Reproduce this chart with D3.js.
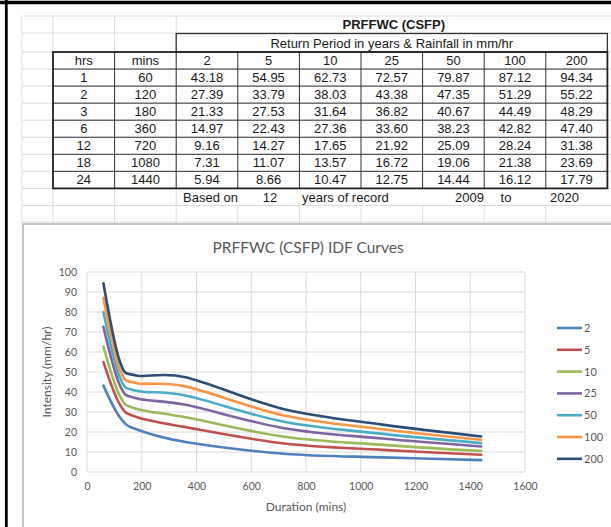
<!DOCTYPE html>
<html>
<head>
<meta charset="utf-8">
<script src="https://cdn.jsdelivr.net/npm/d3@7"></script>
<style>
  body { margin: 0; background: #fff; }
  svg { display: block; }
</style>
</head>
<body>
<svg id="page" width="611" height="527"></svg>
<script>
// table + IDF chart data
var hrs = [1, 2, 3, 6, 12, 18, 24];
var mins = [60, 120, 180, 360, 720, 1080, 1440];
var returnPeriods = ["2", "5", "10", "25", "50", "100", "200"];
var r2 = [43.18, 27.39, 21.33, 14.97, 9.16, 7.31, 5.94];
var r5 = [54.95, 33.79, 27.53, 22.43, 14.27, 11.07, 8.66];
var r10 = [62.73, 38.03, 31.64, 27.36, 17.65, 13.57, 10.47];
var r25 = [72.57, 43.38, 36.82, 33.60, 21.92, 16.72, 12.75];
var r50 = [79.87, 47.35, 40.67, 38.23, 25.09, 19.06, 14.44];
var r100 = [87.12, 51.29, 44.49, 42.82, 28.24, 21.38, 16.12];
var r200 = [94.34, 55.22, 48.29, 47.40, 31.38, 23.69, 17.79];
var seriesValues = [r2, r5, r10, r25, r50, r100, r200];
var seriesColors = ["#4F81BD", "#C0504D", "#9BBB59", "#8064A2", "#4BACC6", "#F79646", "#2C4D75"];
var xTicks = [0, 200, 400, 600, 800, 1000, 1200, 1400, 1600];
var yTicks = [0, 10, 20, 30, 40, 50, 60, 70, 80, 90, 100];

var svg = d3.select("#page");
var tableFont = "'Liberation Sans', Arial, sans-serif";
var chartFont = "Lato, 'Open Sans', sans-serif";

// ---------- spreadsheet part ----------
var colX = d3.range(10).map(function(i) { return 53 + i * 61.6; });
var rowY = d3.range(9).map(function(i) { return 52 + i * 17.05; });

// light excel gridlines
var g = svg.append("g");
var lightY = [16, 33].concat(rowY).concat([205.5, 222]);
g.selectAll(".hg").data(lightY).enter().append("line")
  .attr("x1", 22).attr("x2", 611)
  .attr("y1", function(d) { return d; }).attr("y2", function(d) { return d; })
  .style("stroke", "#dcdcdc").style("stroke-width", 1);
g.selectAll(".vg").data([22, colX[0], colX[1], colX[2]]).enter().append("line")
  .attr("x1", function(d) { return d; }).attr("x2", function(d) { return d; })
  .attr("y1", 16).attr("y2", 224)
  .style("stroke", "#dcdcdc").style("stroke-width", 1);
g.selectAll(".vg2").data(colX.slice(3, 9)).enter().append("line")
  .attr("x1", function(d) { return d; }).attr("x2", function(d) { return d; })
  .attr("y1", 206).attr("y2", 224)
  .style("stroke", "#dcdcdc").style("stroke-width", 1);

// title + return period box
g.append("text").attr("x", (colX[2] + colX[9]) / 2 + 2).attr("y", 29)
  .attr("text-anchor", "middle").style("font-family", tableFont)
  .style("font-size", "13px").style("font-weight", "bold").style("fill", "#1a1a1a")
  .text("PRFFWC (CSFP)");
g.append("rect").attr("x", colX[2]).attr("y", 33.5).attr("width", colX[9] - colX[2]).attr("height", rowY[0] - 33.5)
  .style("fill", "none").style("stroke", "#333").style("stroke-width", 1.3);
g.append("text").attr("x", (colX[2] + colX[9]) / 2).attr("y", 47.5)
  .attr("text-anchor", "middle").style("font-family", tableFont)
  .style("font-size", "13px").style("fill", "#1a1a1a")
  .text("Return Period in years & Rainfall in mm/hr");

// table cells
var header = ["hrs", "mins"].concat(returnPeriods);
var rows = [header];
hrs.forEach(function(h, i) {
  rows.push([h, mins[i]].concat(seriesValues.map(function(s) { return s[i].toFixed(2); })));
});
rows.forEach(function(row, r) {
  row.forEach(function(v, c) {
    g.append("text")
      .attr("x", (colX[c] + colX[c + 1]) / 2)
      .attr("y", rowY[r] + 13)
      .attr("text-anchor", "middle")
      .style("font-family", tableFont).style("font-size", "13px").style("fill", "#1a1a1a")
      .text(v);
  });
});
// inner borders
g.selectAll(".ih").data(rowY.slice(1, 8)).enter().append("line")
  .attr("x1", colX[0]).attr("x2", colX[9])
  .attr("y1", function(d) { return d; }).attr("y2", function(d) { return d; })
  .style("stroke", "#333").style("stroke-width", 1);
g.selectAll(".iv").data(colX.slice(1, 9)).enter().append("line")
  .attr("x1", function(d) { return d; }).attr("x2", function(d) { return d; })
  .attr("y1", rowY[0]).attr("y2", rowY[8])
  .style("stroke", "#333").style("stroke-width", 1);
g.append("rect").attr("x", colX[0]).attr("y", rowY[0]).attr("width", colX[9] - colX[0]).attr("height", rowY[8] - rowY[0])
  .style("fill", "none").style("stroke", "#222").style("stroke-width", 1.8);

// note row
var note = [
  {t: "Based on", x: 183, a: "start"},
  {t: "12", x: 270, a: "middle"},
  {t: "years of record", x: 302, a: "start"},
  {t: "2009", x: 484, a: "end"},
  {t: "to", x: 506, a: "middle"},
  {t: "2020", x: 550, a: "start"}
];
g.selectAll(".note").data(note).enter().append("text")
  .attr("x", function(d) { return d.x; }).attr("y", 202)
  .attr("text-anchor", function(d) { return d.a; })
  .style("font-family", tableFont).style("font-size", "13px").style("fill", "#1a1a1a")
  .text(function(d) { return d.t; });

// ---------- chart part ----------
var c = svg.append("g");
c.append("rect").attr("x", 23).attr("y", 224).attr("width", 640).attr("height", 400)
  .style("fill", "#fff").style("stroke", "#8c8c8c").style("stroke-width", 1);

c.append("text").attr("x", 308).attr("y", 253).attr("text-anchor", "middle")
  .style("font-family", chartFont).style("font-size", "15.5px").style("fill", "#595959")
  .text("PRFFWC (CSFP) IDF Curves");

var x = d3.scaleLinear().domain([0, 1600]).range([87, 525]);
var y = d3.scaleLinear().domain([0, 100]).range([472, 272]);

c.selectAll(".gy").data(yTicks).enter().append("line")
  .attr("x1", x(0)).attr("x2", x(1600))
  .attr("y1", function(d) { return y(d); }).attr("y2", function(d) { return y(d); })
  .style("stroke", "#d9d9d9").style("stroke-width", 1);
c.selectAll(".gx").data(xTicks).enter().append("line")
  .attr("x1", function(d) { return x(d); }).attr("x2", function(d) { return x(d); })
  .attr("y1", y(0)).attr("y2", y(100))
  .style("stroke", "#d9d9d9").style("stroke-width", 1);

var yAxis = c.append("g").attr("transform", "translate(" + x(0) + ",0)")
  .call(d3.axisLeft(y).tickValues(yTicks).tickSize(0).tickPadding(10));
var xAxis = c.append("g").attr("transform", "translate(0," + y(0) + ")")
  .call(d3.axisBottom(x).tickValues(xTicks).tickFormat(d3.format("d")).tickSize(0).tickPadding(11));
[xAxis, yAxis].forEach(function(a) {
  a.select(".domain").remove();
  a.selectAll("text").style("font-family", chartFont).style("font-size", "10.5px").style("fill", "#595959");
});

c.append("text").attr("x", 306).attr("y", 511).attr("text-anchor", "middle")
  .style("font-family", chartFont).style("font-size", "12px").style("fill", "#595959")
  .text("Duration (mins)");
c.append("text").attr("transform", "translate(51," + 372 + ") rotate(-90)").attr("text-anchor", "middle")
  .style("font-family", chartFont).style("font-size", "12px").style("fill", "#595959")
  .text("Intensity (mm/hr)");

var line = d3.line()
  .x(function(d, i) { return x(mins[i]); })
  .y(function(d) { return y(d); })
  .curve(d3.curveCardinal.tension(0));

c.selectAll(".series").data(seriesValues).enter().append("path")
  .attr("d", function(d) { return line(d); })
  .style("fill", "none")
  .style("stroke", function(d, i) { return seriesColors[i]; })
  .style("stroke-width", 2.6)
  .style("stroke-linecap", "round");

var leg = c.selectAll(".leg").data(returnPeriods).enter().append("g")
  .attr("transform", function(d, i) { return "translate(557," + (328 + i * 21.8) + ")"; });
leg.append("line").attr("x1", 0).attr("x2", 25)
  .style("stroke", function(d, i) { return seriesColors[i]; }).style("stroke-width", 2.6);
leg.append("text").attr("x", 27).attr("y", 4)
  .style("font-family", chartFont).style("font-size", "11px").style("fill", "#595959")
  .text(function(d) { return d; });

// outer black frame of the screenshot
svg.append("line").attr("x1", 0).attr("x2", 611).attr("y1", 2.5).attr("y2", 2.5)
  .style("stroke", "#000").style("stroke-width", 3.5);
svg.append("line").attr("x1", 6.3).attr("x2", 6.3).attr("y1", 0).attr("y2", 527)
  .style("stroke", "#000").style("stroke-width", 2.8);
</script>
</body>
</html>
